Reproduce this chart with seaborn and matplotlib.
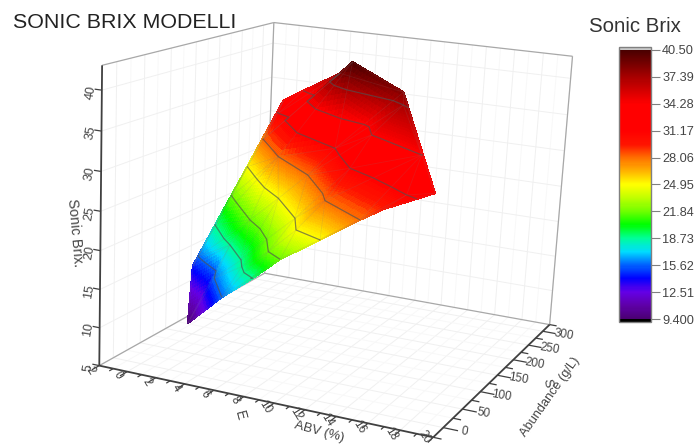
import numpy as np
import seaborn as sns
import matplotlib
matplotlib.use('Agg')
import matplotlib.pyplot as plt
import matplotlib.tri as mtri
from matplotlib.cm import ScalarMappable
from matplotlib.colors import Normalize
from mpl_toolkits.mplot3d import proj3d
from mpl_toolkits.mplot3d.art3d import Line3DCollection

# values
abv = [1.74, -0.03, 0.13, 3.23, 5.41, -0.03, 3.0, 5.11, 5.79, 6.47, 7.42, 0.03, 3.83, 6.71,
       7.98, 9.26, -0.1, 5.47, 8.43, 9.61, 11.7, -0.02, 3.18, 6.98, 10.58, 14.07, 0.12, 7.99,
       11.0, 16.33, -0.18, 18.12, 15.35, 1.29, 11.06, 15.69, 4.0, 11.91, 6.39, 11.35]
abundance = [41.5, 98.6, 105.2, 50.3, 2.5, 143.6, 87.6, 48.5, 29.7, 14.0, 2.8, 176.7, 103.8, 51.5,
             15.7, -0.3, 214.1, 113.4, 55.6, 19.7, 1.9, 247.3, 183.2, 128.9, 47.9, 4.0, 277.4, 156.6,
             87.3, 23.7, 298.1, 20.2, 8.5, 299.9, 134.1, 82.0, 301.4, 179.1, 247.7, 200.0]
brix = [9.4, 14.5, 15.62, 15.62, 15.62, 18.73, 18.73, 18.73, 18.73, 18.73, 18.73, 21.84, 21.84, 21.84,
        21.84, 21.84, 24.95, 24.95, 24.95, 24.95, 24.95, 28.06, 28.06, 28.06, 28.06, 28.06, 31.17, 31.17,
        31.17, 31.17, 32.5, 32.0, 29.6, 34.28, 34.28, 34.28, 37.39, 37.39, 40.5, 38.5]

xticks = [-2, 0, 2, 4, 6, 8, 10, 12, 14, 16, 18, 20]
yticks = [0, 50, 100, 150, 200, 250, 300]
zticks = [5, 10, 15, 20, 25, 30, 35, 40]
contour_levels = [15.62, 18.73, 21.84, 24.95, 28.06, 31.17, 34.28, 37.39]
bar_ticks = [9.4, 12.51, 15.62, 18.73, 21.84, 24.95, 28.06, 31.17, 34.28, 37.39, 40.5]
bar_labels = ['9.400', '12.51', '15.62', '18.73', '21.84', '24.95', '28.06', '31.17', '34.28', '37.39', '40.50']
bar_colors = ['#4b0073', '#5f00aa', '#6400e6', '#0000ff', '#0064ff', '#00dcff', '#00ff96',
              '#00ff00', '#6eff00', '#c0ff00', '#ffff00', '#ffb400', '#ff6e00', '#ff1400',
              '#ff0000', '#ff0000', '#ff0000', '#d40000', '#a80000', '#780000', '#4a0000']

W, H = 699, 446
XMIN, XMAX, YMIN, YMAX, ZMIN, ZMAX = -2, 20, -25, 325, 5, 43
TEXT = '#444444'

sns.set_theme(style='white', font='Liberation Sans')
cmap = sns.blend_palette(bar_colors, n_colors=256, as_cmap=True)
cmap.set_over('#c8c8c8')
cmap.set_under('#000000')
norm = Normalize(9.4, 40.5)

fig = plt.figure(figsize=(W / 100, H / 100), dpi=100)
size = 558.6
ax = fig.add_axes([(336.6 - size / 2) / W, 1 - (213.1 + size / 2) / H, size / W, size / H],
                  projection='3d', computed_zorder=False)
ax.view_init(elev=14.674, azim=-66.839, roll=-2.84)
ax.set_proj_type('persp', focal_length=0.5252)
ax.set_box_aspect((1.176, 1.212, 1.0))
ax.set_xlim(XMIN, XMAX)
ax.set_ylim(YMIN, YMAX)
ax.set_zlim(ZMIN, ZMAX)
ax.set_axis_off()
ax.apply_aspect()


def line3(xs, ys, zs, color, lw, z=1):
    ax.plot(xs, ys, zs, color=color, lw=lw, zorder=z, solid_capstyle='butt')


def px_text(x, y, s, **kw):
    fig.text(x / W, 1 - y / H, s, ha='center', va='center', **kw)


def tick_text(x, y, z, s, dx, dy, **kw):
    # label next to a tick, dx and dy in pixels of the picture
    a, b, _ = proj3d.proj_transform(x, y, z, ax.get_proj())
    u, v = ax.transData.transform((a, b))
    px_text(u + dx, H - v + dy, s, **kw)


# grid on the floor and both walls
for v in np.arange(-2, 21, 1):
    c = '#f0f0f0' if v % 2 == 0 else '#f8f8f8'
    line3([v, v], [YMIN, YMAX], [ZMIN, ZMIN], c, 0.7)
    line3([v, v], [YMAX, YMAX], [ZMIN, ZMAX], c, 0.7)
for v in np.arange(0, 325, 25):
    c = '#f0f0f0' if v % 50 == 0 else '#f8f8f8'
    line3([XMIN, XMAX], [v, v], [ZMIN, ZMIN], c, 0.7)
    line3([XMIN, XMIN], [v, v], [ZMIN, ZMAX], c, 0.7)
for v in zticks[1:]:
    line3([XMIN, XMIN], [YMIN, YMAX], [v, v], '#f0f0f0', 0.7)
    line3([XMIN, XMAX], [YMAX, YMAX], [v, v], '#f0f0f0', 0.7)

# box edges
for xs, ys, zs in [([XMIN, XMIN], [YMIN, YMAX], [ZMAX, ZMAX]),
                   ([XMIN, XMAX], [YMAX, YMAX], [ZMAX, ZMAX]),
                   ([XMAX, XMAX], [YMAX, YMAX], [ZMIN, ZMAX]),
                   ([XMIN, XMIN], [YMAX, YMAX], [ZMIN, ZMAX]),
                   ([XMIN, XMAX], [YMAX, YMAX], [ZMIN, ZMIN]),
                   ([XMIN, XMIN], [YMIN, YMAX], [ZMIN, ZMIN])]:
    line3(xs, ys, zs, '#a8a8a8', 0.9, 2)

# surface, the refiner only makes the colour smooth between the read points
abv = np.array(abv)
abundance = np.array(abundance)
brix = np.array(brix)
triangles = mtri.Triangulation(abv / 20, abundance / 300).triangles
tri = mtri.Triangulation(abv, abundance, triangles)
fine_tri, fine_z = mtri.UniformTriRefiner(tri).refine_field(
    brix, triinterpolator=mtri.LinearTriInterpolator(tri, brix), subdiv=4)
surf = ax.plot_trisurf(fine_tri, fine_z, cmap=cmap, norm=norm, linewidth=0.6,
                       shade=False, antialiased=False, zorder=3)
surf.set_edgecolor('face')

edges = [[(abv[a], abundance[a], brix[a]), (abv[b], abundance[b], brix[b])] for a, b in tri.edges]
ax.add_collection3d(Line3DCollection(edges, colors='#808080', linewidths=0.6, alpha=0.15, zorder=4))
ax.tricontour(tri, brix, levels=contour_levels, colors='#505050', linewidths=0.9, alpha=0.65, zorder=5)

# axes and ticks, drawn in data space so they follow the perspective
line3([XMIN, XMAX], [YMIN, YMIN], [ZMIN, ZMIN], '#404040', 1.3, 6)
line3([XMAX, XMAX], [YMIN, YMAX], [ZMIN, ZMIN], '#404040', 1.3, 6)
line3([XMIN, XMIN], [YMIN, YMIN], [ZMIN, ZMAX], '#404040', 1.3, 6)
for v in range(-2, 21):
    end = YMIN - (13 if v % 2 == 0 else 7)
    line3([v, v], [YMIN, end], [ZMIN, ZMIN], '#404040', 0.9, 6)
for v in range(-25, 326, 25):
    end = XMAX + (0.9 if v % 50 == 0 else 0.5)
    line3([XMAX, end], [v, v], [ZMIN, ZMIN], '#404040', 0.9, 6)
for v in zticks:
    line3([XMIN, XMIN - 0.5], [YMIN, YMIN], [v, v], '#404040', 0.9, 6)

for v in xticks:
    tick_text(v, YMIN, ZMIN, str(v), -9, 4 if v < 20 else 0, rotation=-58, fontsize=8.5, color=TEXT)
for v in yticks:
    tick_text(XMAX, v, ZMIN, str(v), 21, 4, rotation=-10, fontsize=8.5, color=TEXT)
for v in zticks:
    tick_text(XMIN, YMIN, v, str(v), -11, 2, rotation=80, fontsize=9, color=TEXT)

px_text(125, 23, 'SONIC BRIX MODELLI', fontsize=15.4, color='#222222')
px_text(635, 27, 'Sonic Brix', fontsize=14.7, color='#333333')
px_text(75, 233, 'Sonic Brix.', fontsize=10.3, rotation=-85, color=TEXT)
px_text(319, 432, 'ABV (%)', fontsize=9.5, rotation=-15, color=TEXT)
px_text(550, 397, 'Abundance (g/L)', fontsize=9.2, rotation=55, color=TEXT)
px_text(240, 415, 'E', fontsize=10, rotation=-75, color=TEXT)
px_text(547, 383, 'S', fontsize=9.5, rotation=-82, color=TEXT)

# colour scale
cax = fig.add_axes([619 / W, 1 - 322 / H, 32 / W, 275 / H])
cbar = fig.colorbar(ScalarMappable(norm=norm, cmap=cmap), cax=cax, extend='both', extendrect=True,
                    extendfrac=3 / 269, ticks=bar_ticks, drawedges=False)
cbar.ax.set_yticklabels(bar_labels)
cbar.ax.tick_params(length=6.5, width=0.8, color='#808080', labelsize=9.2, labelcolor=TEXT, pad=1.5, right=True)
cbar.outline.set_edgecolor('#808080')
cbar.outline.set_linewidth(1.0)

fig.savefig('out.png', dpi=100)
